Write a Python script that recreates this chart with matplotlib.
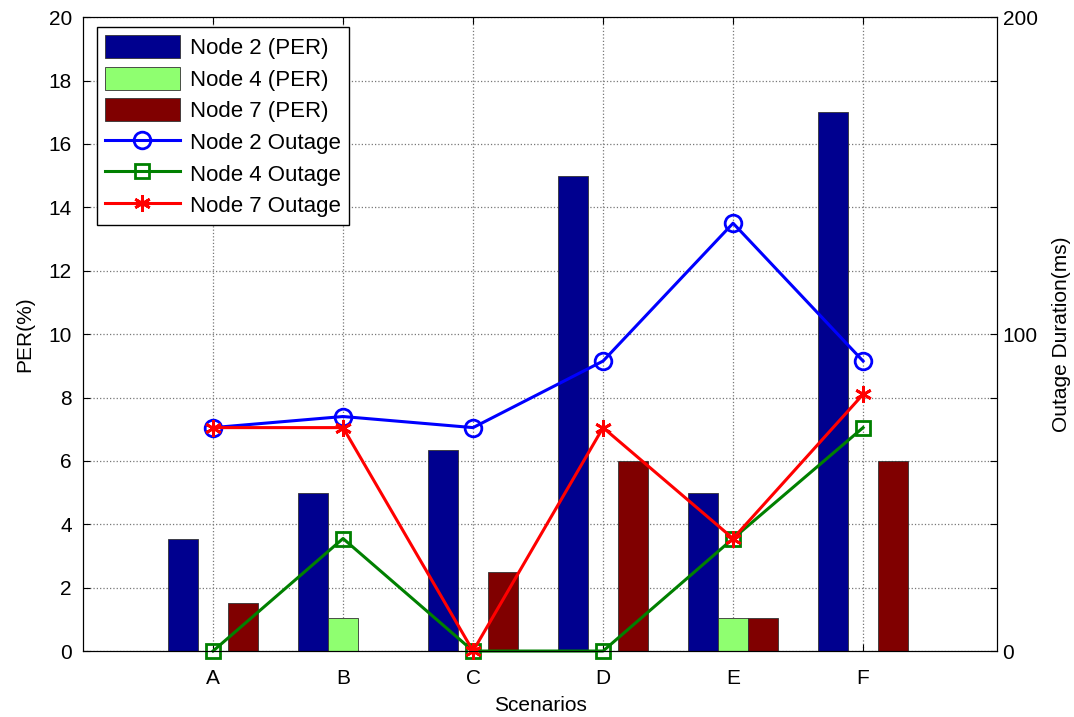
import numpy as np
import matplotlib
matplotlib.use("Agg")
import matplotlib.pyplot as plt

plt.rcParams['font.family'] = ['Liberation Sans', 'DejaVu Sans']

# data
scenarios = ['A', 'B', 'C', 'D', 'E', 'F']
per_node2 = [3.55, 5.0, 6.35, 15.0, 5.0, 17.0]
per_node4 = [0, 1.05, 0, 0, 1.05, 0]
per_node7 = [1.5, 0, 2.5, 6.0, 1.05, 6.0]
out_node2 = [70.5, 74, 70.5, 91.5, 135, 91.5]
out_node4 = [0, 35.5, 0, 0, 35.5, 70.5]
out_node7 = [70.5, 70.5, 0, 70.5, 35.5, 81]

x = np.arange(1, len(scenarios) + 1)
w = 0.23

fig = plt.figure(figsize=(10.74, 7.17), dpi=100)
ax1 = fig.add_axes([0.0773, 0.092, 0.851, 0.884])
ax2 = ax1.twinx()

ax1.bar(x - w, per_node2, w, color='#00008F', edgecolor='#333333', linewidth=0.6, label='Node 2 (PER)', zorder=2)
ax1.bar(x, per_node4, w, color='#8FFF70', edgecolor='#333333', linewidth=0.6, label='Node 4 (PER)', zorder=2)
ax1.bar(x + w, per_node7, w, color='#800000', edgecolor='#333333', linewidth=0.6, label='Node 7 (PER)', zorder=2)

ax2.plot(x, out_node2, '-o', color='#0000FF', lw=2.2, ms=12, mfc='none', mew=2, label='Node 2 Outage', clip_on=False)
ax2.plot(x, out_node4, '-s', color='#008000', lw=2.2, ms=10, mfc='none', mew=2, label='Node 4 Outage', clip_on=False)
ax2.plot(x, out_node7, '-', marker=(6, 2, 0), color='#FF0000', lw=2.2, ms=12, mew=2, label='Node 7 Outage', clip_on=False)

ax1.set_xlim(0, 7.03)
ax1.set_ylim(0, 20)
ax2.set_ylim(0, 200)
ax1.set_xticks(x)
ax1.set_xticklabels(scenarios)
ax1.set_yticks(np.arange(0, 21, 2))
ax2.set_yticks(np.arange(0, 201, 20))
ax2.set_yticklabels([str(v) if v % 100 == 0 else '' for v in range(0, 201, 20)])

ax1.grid(True, linestyle=':', color='#777777', linewidth=0.9, zorder=0)
ax1.set_axisbelow(True)
ax1.tick_params(direction='in', labelsize=15, top=True, length=5, pad=8)
ax1.tick_params(axis='x', pad=13)
ax2.tick_params(direction='in', labelsize=15, length=5, pad=4)

ax1.set_xlabel('Scenarios', fontsize=15, labelpad=6)
ax1.set_ylabel('PER(%)', fontsize=15, labelpad=10)
ax2.set_ylabel('Outage Duration(ms)', fontsize=15, labelpad=10)

h1, l1 = ax1.get_legend_handles_labels()
h2, l2 = ax2.get_legend_handles_labels()
leg = ax2.legend(h1 + h2, l1 + l2, loc='upper left', bbox_to_anchor=(0.015, 0.984),
                 fontsize=16, fancybox=False, edgecolor='black', framealpha=1,
                 handlelength=3.4, handleheight=1.2, labelspacing=0.35, borderpad=0.35,
                 handletextpad=0.45, borderaxespad=0)
leg.get_frame().set_linewidth(1.0)

fig.savefig('out.png', dpi=100)
